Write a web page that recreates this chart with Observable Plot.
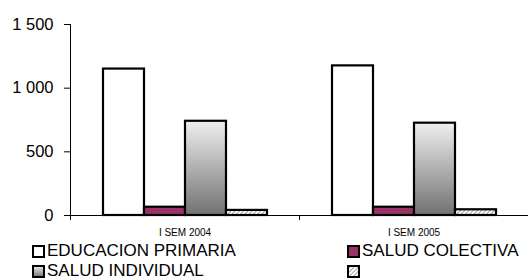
<!DOCTYPE html>
<html>
<head>
<meta charset="utf-8">
<script src="https://cdn.jsdelivr.net/npm/d3@7"></script>
<script src="https://cdn.jsdelivr.net/npm/@observablehq/plot@0.6"></script>
<style>
  body { margin: 0; background: #fff; font-family: "Liberation Sans", Arial, sans-serif; }
  #wrap { position: relative; width: 528px; height: 280px; overflow: hidden; }
  #legend { position: absolute; left: 0; top: 241px; width: 528px; font-size: 17px; color: #000; }
  .item { position: absolute; height: 20px; line-height: 20px; white-space: nowrap; display: flex; align-items: center; }
  .item svg { margin-right: 2px; }
</style>
</head>
<body>
<svg width="0" height="0" style="position:absolute">
  <defs>
    <linearGradient id="gradInd" x1="0" y1="0" x2="0" y2="1">
      <stop offset="0" stop-color="#efefef"/>
      <stop offset="1" stop-color="#717171"/>
    </linearGradient>
    <pattern id="hatch" width="3" height="3" patternUnits="userSpaceOnUse" patternTransform="rotate(45)">
      <rect width="3" height="3" fill="#fff"/>
      <line x1="0" y1="0" x2="0" y2="3" stroke="#8a8a8a" stroke-width="1.6"/>
    </pattern>
  </defs>
</svg>
<div id="wrap"><div id="chart"></div><div id="legend"></div></div>
<script>
const periods = ["I SEM 2004", "I SEM 2005"];
const seriesKeys = ["EDUCACION PRIMARIA", "SALUD COLECTIVA", "SALUD INDIVIDUAL", "OTRO"];
const seriesLabels = ["EDUCACION PRIMARIA", "SALUD COLECTIVA", "SALUD INDIVIDUAL", ""];
const educacionPrimaria = [1150, 1175];
const saludColectiva = [65, 65];
const saludIndividual = [740, 725];
const otro = [40, 45];
const yTicks = [0, 500, 1000, 1500];
const fills = ["#ffffff", "#993366", "url(#gradInd)", "url(#hatch)"];

const valuesBySeries = [educacionPrimaria, saludColectiva, saludIndividual, otro];
const data = [];
periods.forEach((p, i) => seriesKeys.forEach((s, j) => data.push({period: p, series: s, value: valuesBySeries[j][i]})));

const fmt = d => d3.format(",")(d).replace(/,/g, " ");
const W = 528, ML = 70, MR = 0;
const step = (W - ML - MR) / periods.length;

const chart = Plot.plot({
  width: W, height: 240,
  marginLeft: ML, marginRight: MR, marginTop: 24, marginBottom: 25,
  style: {fontFamily: "Liberation Sans, Arial, sans-serif", background: "white", color: "black"},
  fx: {domain: periods, padding: 0, label: null},
  x: {domain: seriesKeys, paddingInner: 0, paddingOuter: 0.73, axis: null},
  y: {domain: [0, 1500], ticks: yTicks, tickFormat: fmt, tickSize: 6, tickPadding: 11, line: true, label: null},
  color: {domain: seriesKeys, range: fills},
  marks: [
    Plot.barY(data, {fx: "period", x: "series", y: "value", fill: "series", stroke: "black", strokeWidth: 2.2}),
    Plot.ruleY([0], {stroke: "black"}),
    Plot.axisFx({anchor: "bottom", tickSize: 0, tickPadding: 13, fontSize: 10, label: null}),
    Plot.axisFx({anchor: "bottom", text: null, tickSize: 5, dx: -step / 2, label: null})
  ]
});
document.getElementById("chart").appendChild(chart);
d3.select(chart).selectAll("g[aria-label='y-axis tick label']").attr("font-size", 16.5);

const legend = d3.select("#legend");
const cols = [32, 347];
seriesKeys.forEach((s, i) => {
  const item = legend.append("div").attr("class", "item")
    .style("left", cols[i % 2] + "px").style("top", (Math.floor(i / 2) * 20) + "px");
  const sv = item.append("svg").attr("width", 13).attr("height", 13);
  sv.append("rect").attr("x", 1).attr("y", 1).attr("width", 11).attr("height", 11)
    .attr("fill", fills[i]).attr("stroke", "black").attr("stroke-width", 2);
  item.append("span").text(seriesLabels[i]);
});
</script>
</body>
</html>
